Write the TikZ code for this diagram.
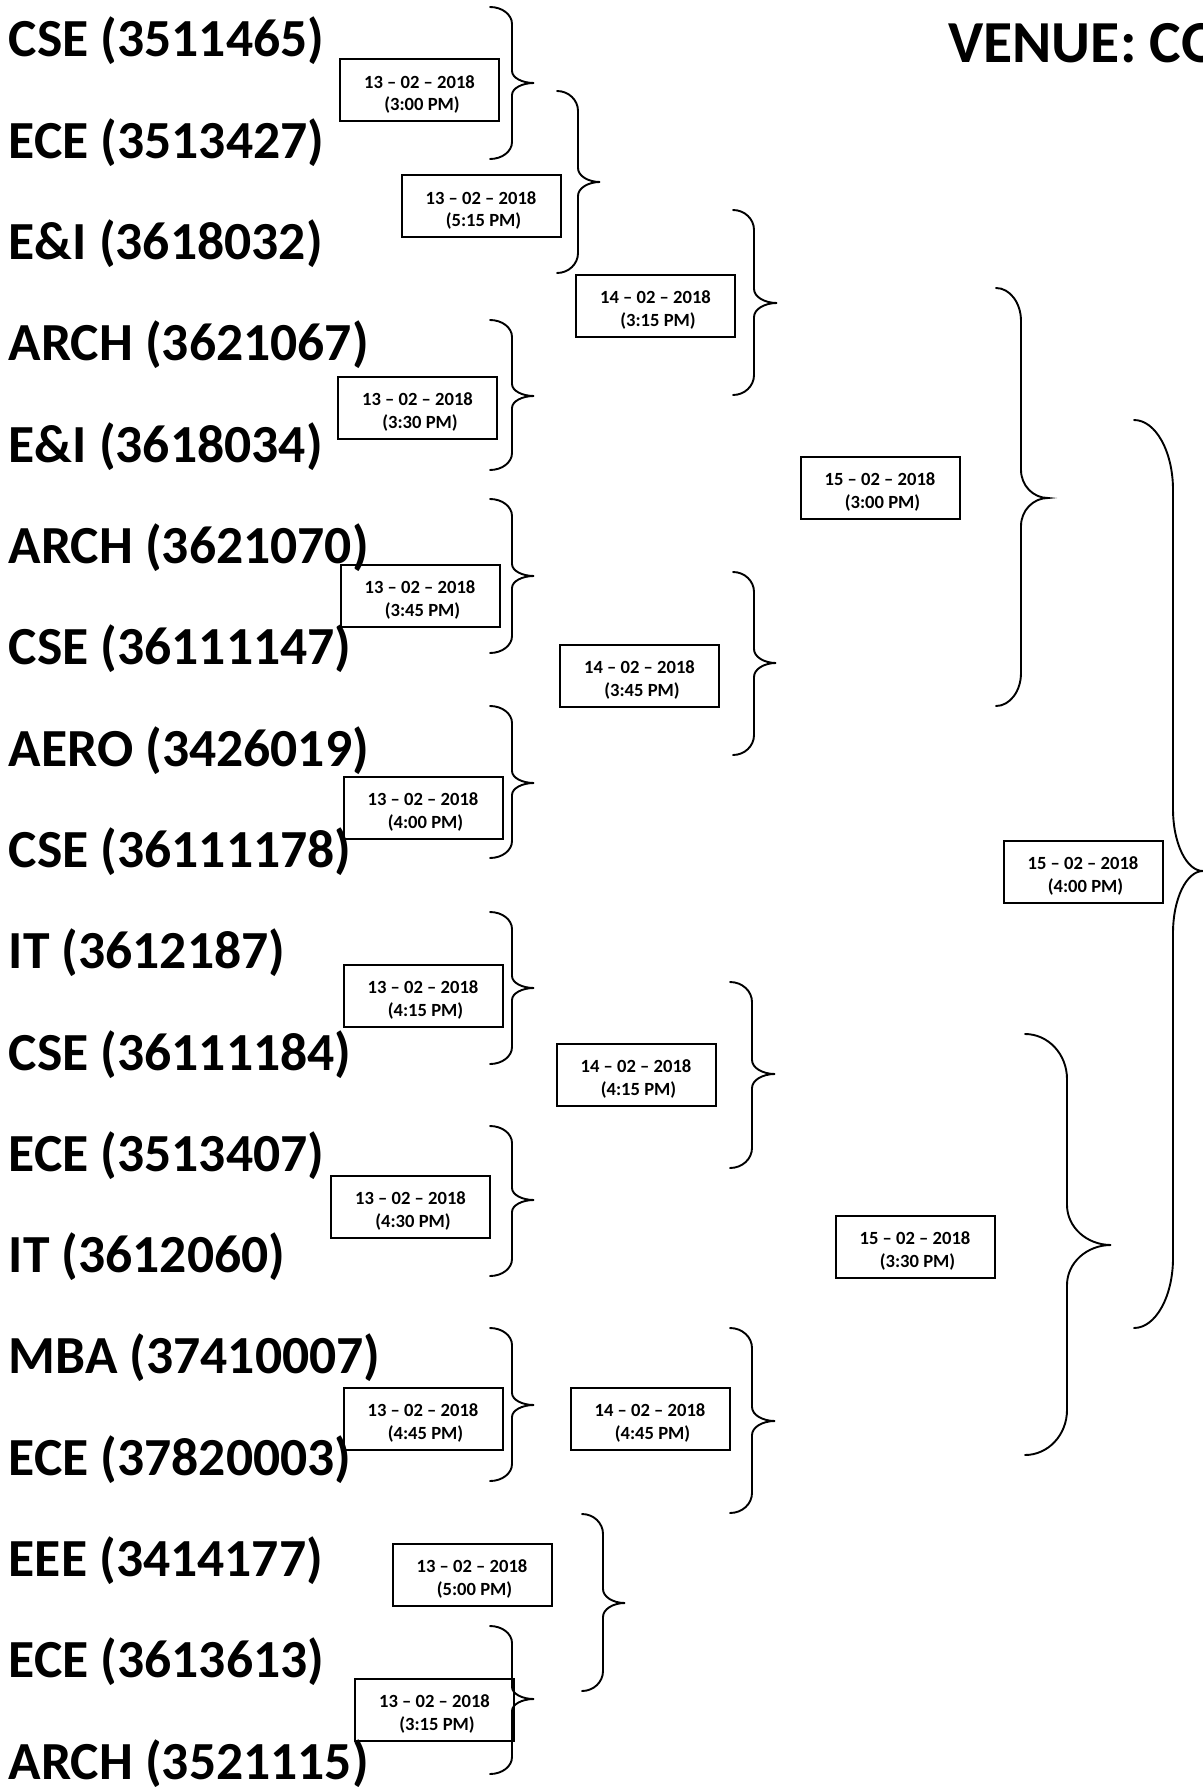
\documentclass[tikz,border=0pt]{standalone}
\usepackage{fontspec}
\setmainfont{Carlito}
\usepackage{graphicx}
\newcommand\dt[2]{\raisebox{0pt}[20.5pt][0pt]{\begin{tabular}[b]{@{}c@{}}#1\\\hspace*{2.5pt}#2\end{tabular}}}
% ex sx tx y0 ym y1 R Rt
\newcommand\rbr[8]{%
\draw[brc] (#1,#4) .. controls ({#1+0.552*(#2-#1)},#4) and (#2,{#4+0.448*#7}) .. (#2,{#4+#7})
 -- (#2,{#5-#8}) .. controls (#2,{#5-0.448*#8}) and ({#2+0.448*(#3-#2)},#5) .. (#3,#5)
 .. controls ({#2+0.448*(#3-#2)},#5) and (#2,{#5+0.448*#8}) .. (#2,{#5+#8})
 -- (#2,{#6-#7}) .. controls (#2,{#6-0.448*#7}) and ({#1+0.552*(#2-#1)},#6) .. (#1,#6);}
\begin{document}
\begin{tikzpicture}[x=0.5pt,y=-0.5pt,
  lbl/.style={anchor=base west, inner sep=0pt, font=\fontsize{26.8pt}{30pt}\selectfont\bfseries},
  datebox/.style={draw, line width=1pt, fill=white, minimum width=79.5pt, minimum height=31pt, inner sep=0pt, font=\fontsize{9.3pt}{11.35pt}\selectfont\bfseries},
  brc/.style={line width=0.95pt, line cap=round}]
\useasboundingbox (0,0) rectangle (1203,1787);
\begin{scope}
\clip (0,0) rectangle (1203,1787);
\fill[white] (0,0) rectangle (1203,1787);
% date boxes
\node[datebox] (d1) at (419.5,90.5) {\dt{13 – 02 – 2018}{(3:00 PM)}};
\node[datebox] (d2) at (481,206.5) {\dt{13 – 02 – 2018}{(5:15 PM)}};
\node[datebox] (d3) at (655.5,306) {\dt{14 – 02 – 2018}{(3:15 PM)}};
\node[datebox] (d4) at (417.5,407.5) {\dt{13 – 02 – 2018}{(3:30 PM)}};
\node[datebox] (d5) at (880,487.5) {\dt{15 – 02 – 2018}{(3:00 PM)}};
\node[datebox] (d6) at (420,596) {\dt{13 – 02 – 2018}{(3:45 PM)}};
\node[datebox] (d7) at (639.5,675.5) {\dt{14 – 02 – 2018}{(3:45 PM)}};
\node[datebox] (d8) at (423,807.5) {\dt{13 – 02 – 2018}{(4:00 PM)}};
\node[datebox] (d9) at (1083,872) {\dt{15 – 02 – 2018}{(4:00 PM)}};
\node[datebox] (d10) at (423,995.5) {\dt{13 – 02 – 2018}{(4:15 PM)}};
\node[datebox] (d11) at (636,1074.5) {\dt{14 – 02 – 2018}{(4:15 PM)}};
\node[datebox] (d12) at (410.5,1206.5) {\dt{13 – 02 – 2018}{(4:30 PM)}};
\node[datebox] (d13) at (915,1246.5) {\dt{15 – 02 – 2018}{(3:30 PM)}};
\node[datebox] (d14) at (423,1418.5) {\dt{13 – 02 – 2018}{(4:45 PM)}};
\node[datebox] (d15) at (650,1418.5) {\dt{14 – 02 – 2018}{(4:45 PM)}};
\node[datebox] (d16) at (472,1575) {\dt{13 – 02 – 2018}{(5:00 PM)}};
\node[datebox] (d17) at (434.5,1710) {\dt{13 – 02 – 2018}{(3:15 PM)}};
% team labels
\foreach \t [count=\i from 0] in {CSE (3511465),ECE (3513427),E\&I (3618032),ARCH (3621067),E\&I (3618034),ARCH (3621070),CSE (36111147),AERO (3426019),CSE (36111178),IT (3612187),CSE (36111184),ECE (3513407),IT (3612060),MBA (37410007),ECE (37820003),EEE (3414177),ECE (3613613),ARCH (3521115)}
  \node[lbl] (t\i) at (8.3,{57+101.3*\i}) {\t};
% venue
\node[anchor=base west, inner sep=0pt, font=\fontsize{29.8pt}{33pt}\selectfont\bfseries] (venue) at (948,63) {VENUE: CO};
% braces
\rbr{490}{512}{534}{7}{83}{159}{17}{12}
\rbr{557}{578}{600}{91}{182}{273}{20}{14}
\rbr{733}{754}{777}{210}{303}{395}{20}{14}
\rbr{490}{512}{534}{320}{396}{470}{17}{12}
\rbr{996}{1021}{1048}{288}{498}{706}{33}{28}
\rbr{490}{512}{534}{499}{576}{653}{17}{12}
\rbr{733}{754}{776}{572}{663}{755}{20}{14}
\rbr{490}{512}{534}{706}{783}{858}{17}{12}
\rbr{1134}{1173}{1203}{420}{871}{1328}{70}{62}
\rbr{490}{512}{534}{912}{988}{1064}{17}{12}
\rbr{730}{752}{775}{982}{1074}{1168}{20}{14}
\rbr{490}{512}{534}{1126}{1200}{1276}{17}{12}
\rbr{1025}{1067}{1111}{1034}{1245}{1455}{45}{40}
\rbr{490}{512}{534}{1328}{1405}{1481}{17}{12}
\rbr{730}{752}{775}{1328}{1421}{1513}{20}{14}
\rbr{582}{603}{625}{1514}{1603}{1691}{20}{14}
\rbr{490}{512}{534}{1626}{1699}{1774}{17}{12}
\end{scope}
\end{tikzpicture}
\end{document}
